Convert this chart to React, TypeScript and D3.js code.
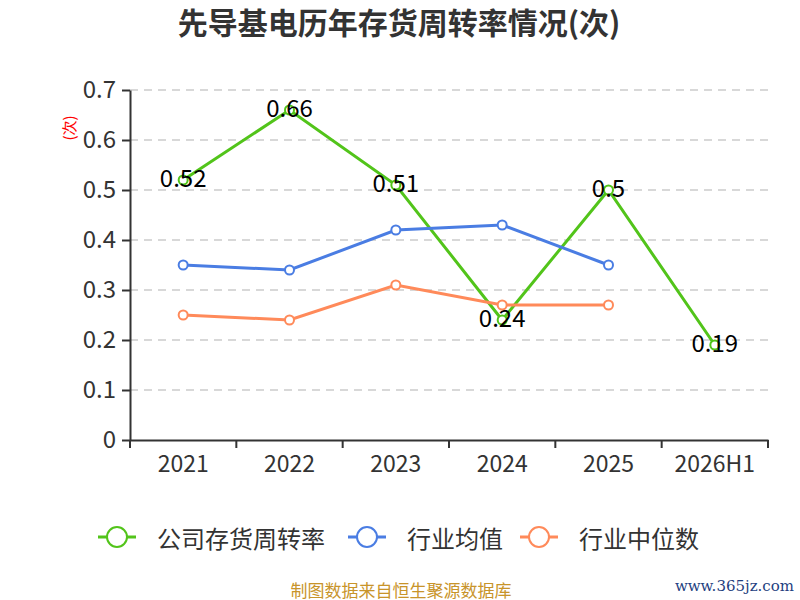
import * as React from 'react';
import * as d3 from 'd3';
import { useRef, useEffect } from 'react';

const categories = ['2021', '2022', '2023', '2024', '2025', '2026H1'];
const company = [0.52, 0.66, 0.51, 0.24, 0.5, 0.19];
const industryMean = [0.35, 0.34, 0.42, 0.43, 0.35];
const industryMedian = [0.25, 0.24, 0.31, 0.27, 0.27];
const yTicks = [0, 0.1, 0.2, 0.3, 0.4, 0.5, 0.6, 0.7];
const seriesNames = ['公司存货周转率', '行业均值', '行业中位数'];

const FONT = '"Noto Sans CJK SC", "Noto Sans", sans-serif';
const colors = ['#52c41a', '#4a7de3', '#ff8a5a'];

const width = 800;
const height = 600;
const marginLeft = 130;
const marginRight = 32;
const marginTop = 90;
const marginBottom = 160;

const App: React.FC = () => {
  const gx = useRef<SVGGElement>(null);
  const gy = useRef<SVGGElement>(null);

  const x = d3.scaleBand<string>().domain(categories).range([marginLeft, width - marginRight]);
  const y = d3.scaleLinear().domain([0, 0.7]).range([height - marginBottom, marginTop]);
  const cx = (i: number) => (x(categories[i]) || 0) + x.bandwidth() / 2;
  const line = d3.line<number>().x((d, i) => cx(i)).y((d) => y(d));

  useEffect(() => {
    if (gx.current) {
      const g = d3.select(gx.current);
      g.call(d3.axisBottom(x).tickSize(0).tickSizeOuter(0));
      g.select('.domain').attr('stroke', '#333').attr('stroke-width', 2);
      g.selectAll('.tick text')
        .attr('font-size', 23)
        .attr('font-family', FONT)
        .attr('fill', '#333')
        .attr('y', 16)
        .attr('dy', '0.71em');
      // boundary ticks between bands
      g.selectAll('.bound').remove();
      const bounds = categories.map((c) => x(c) || 0).concat([width - marginRight]);
      g.selectAll('.bound')
        .data(bounds)
        .enter()
        .append('line')
        .attr('class', 'bound')
        .attr('x1', (d) => d)
        .attr('x2', (d) => d)
        .attr('y1', 0)
        .attr('y2', 8)
        .attr('stroke', '#333')
        .attr('stroke-width', 2);
    }
  }, []);

  useEffect(() => {
    if (gy.current) {
      const g = d3.select(gy.current);
      g.call(d3.axisLeft(y).tickValues(yTicks).tickFormat((d) => d3.format('~g')(d as number)).tickSize(8).tickSizeOuter(0));
      g.select('.domain').attr('stroke', '#333').attr('stroke-width', 2);
      g.selectAll('.tick line').attr('stroke', '#333').attr('stroke-width', 2);
      g.selectAll('.tick text')
        .attr('font-size', 24)
        .attr('font-family', FONT)
        .attr('fill', '#333')
        .attr('x', -14);
    }
  }, []);

  const series = [company, industryMean, industryMedian];

  return (
    <svg width={width} height={height} style={{ position: 'absolute', left: 0, top: 0 }}>
      <rect width={width} height={height} fill="#fff" />
      <text x={399} y={34} textAnchor="middle" fontFamily={FONT} fontSize={30} fontWeight="bold" fill="#333">
        先导基电历年存货周转率情况(次)
      </text>
      <text
        transform="translate(75,128) rotate(-90)"
        textAnchor="middle"
        fontFamily={FONT}
        fontSize={15}
        fill="red"
      >
        (次)
      </text>
      <g>
        {yTicks.slice(1).map((t) => (
          <line
            key={t}
            x1={marginLeft}
            x2={width - marginRight}
            y1={y(t)}
            y2={y(t)}
            stroke="#ccc"
            strokeWidth={1.5}
            strokeDasharray="8 6"
          />
        ))}
      </g>
      <g ref={gx} transform={`translate(0,${height - marginBottom})`} />
      <g ref={gy} transform={`translate(${marginLeft},0)`} />
      {series.map((s, k) => (
        <g key={k}>
          <path fill="none" stroke={colors[k]} strokeWidth={3} d={line(s) || ''} />
          {s.map((d, i) => (
            <circle key={i} cx={cx(i)} cy={y(d)} r={4.5} fill="#fff" stroke={colors[k]} strokeWidth={2} />
          ))}
        </g>
      ))}
      <g>
        {company.map((d, i) => (
          <text
            key={i}
            x={cx(i)}
            y={y(d) - 4}
            textAnchor="middle"
            dominantBaseline="central"
            fontFamily={FONT}
            fontSize={24}
            fill="#000"
          >
            {d3.format('~g')(d)}
          </text>
        ))}
      </g>
      <g>
        {seriesNames.map((n, k) => {
          const lx = [98, 348, 520][k];
          return (
            <g key={n} transform={`translate(${lx},537)`}>
              <line x1={0} x2={38} y1={0} y2={0} stroke={colors[k]} strokeWidth={3} />
              <circle cx={19} cy={0} r={10} fill="#fff" stroke={colors[k]} strokeWidth={2} />
              <text x={59} y={0} dominantBaseline="central" fontFamily={FONT} fontSize={24} fill="#333">
                {n}
              </text>
            </g>
          );
        })}
      </g>
      <text x={401} y={589} textAnchor="middle" dominantBaseline="central" fontFamily={FONT} fontSize={17} fill="#c8942a">
        制图数据来自恒生聚源数据库
      </text>
      <text x={794} y={586} textAnchor="end" dominantBaseline="central" fontFamily='"DejaVu Serif", serif' fontSize={15} fill="#1f3f7f">
        www.365jz.com
      </text>
    </svg>
  );
};

export default App;
